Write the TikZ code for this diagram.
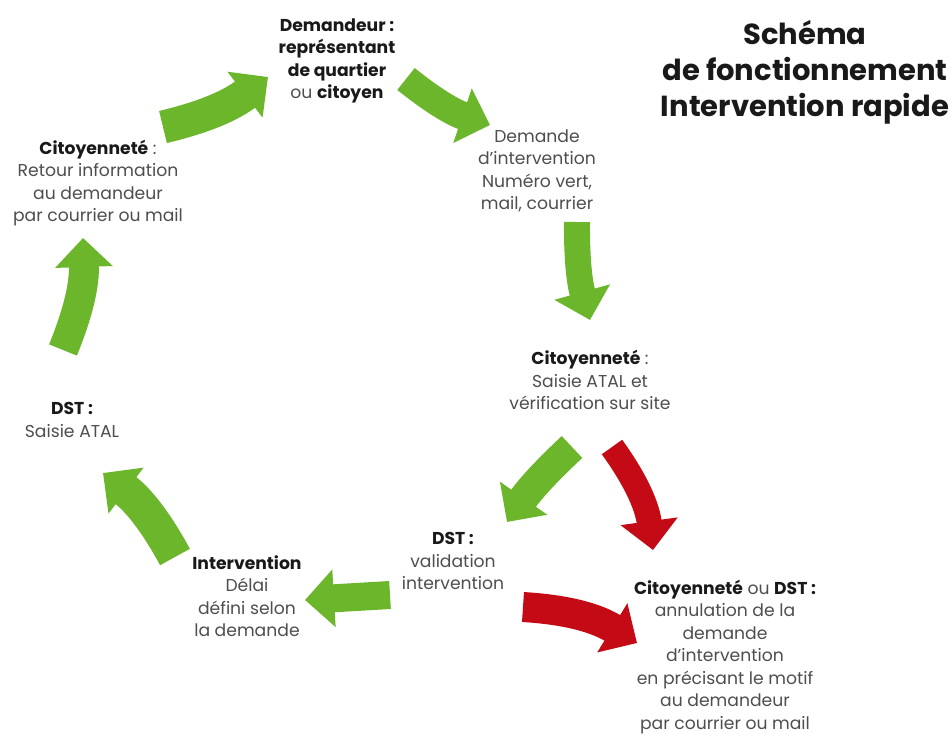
\documentclass[tikz,border=0pt]{standalone}
\usepackage{fontspec}
\setmainfont{Poppins}
\usetikzlibrary{arrows.meta}
\definecolor{arrgreen}{RGB}{108,182,44}
\definecolor{arrred}{RGB}{196,10,20}
\definecolor{txtgray}{RGB}{78,78,78}
\definecolor{txtdark}{RGB}{25,25,25}
\newcommand\hb[1]{\textcolor{txtdark}{\textbf{#1}}}
\tikzset{
  lbl/.style={align=center, font=\fontsize{17.2}{22.5}\selectfont, text=txtgray, inner sep=0pt},
  ttl/.style={align=center, font=\fontsize{29}{36}\selectfont\bfseries, text=txtdark, inner sep=0pt},
  garrow/.style={draw=arrgreen, line width=#1, -{Triangle[length=29pt,width=56pt]}},
  rarrow/.style={draw=arrred, line width=#1, -{Triangle[length=29pt,width=56pt]}}
}
\begin{document}
\begin{tikzpicture}[x=1pt,y=-1pt]
\useasboundingbox[fill=white] (0,0) rectangle (951,734);
% text nodes
\node[lbl] (dem) at (337,61) {\hb{Demandeur :}\\\hb{représentant}\\\hb{de quartier}\\ou \hb{citoyen}};
\node[lbl] (cit1) at (98,183) {\hb{Citoyenneté} :\\Retour information\\au demandeur\\par courrier ou mail};
\node[lbl] (dem2) at (537,171) {Demande\\d’intervention\\Numéro vert,\\mail, courrier};
\node[ttl] (title) at (805,72) {Schéma\\de fonctionnement\\Intervention rapide};
\node[lbl] (cit2) at (590,380) {\hb{Citoyenneté} :\\Saisie ATAL et\\vérification sur site};
\node[lbl] (dst1) at (453,561) {\hb{DST :}\\validation\\intervention};
\node[lbl] (interv) at (247,596) {\hb{Intervention}\\Délai\\défini selon\\la demande};
\node[lbl] (dst2) at (72,420) {\hb{DST :}\\Saisie ATAL};
\node[lbl] (ann) at (725,657) {\hb{Citoyenneté} ou \hb{DST :}\\annulation de la\\demande\\d’intervention\\en précisant le motif\\au demandeur\\par courrier ou mail};
% arrow end points
\coordinate (a1s) at (163,127); \coordinate (a1e) at (268,77);
\coordinate (a2s) at (406,79);  \coordinate (a2e) at (490,125);
\coordinate (a3s) at (577,222); \coordinate (a3e) at (590,320);
\coordinate (a4s) at (572,447); \coordinate (a4e) at (507,522);
\coordinate (a5s) at (612,447); \coordinate (a5e) at (653,550);
\coordinate (a6s) at (523,607); \coordinate (a6e) at (637,643);
\coordinate (a7s) at (390,595); \coordinate (a7e) at (305,600);
\coordinate (a8s) at (175,557); \coordinate (a8e) at (103,473);
\coordinate (a9s) at (63,350);  \coordinate (a9e) at (83,238);
% arrows
\draw[garrow=33pt] (a1s) to[bend right=12] (a1e);
\draw[garrow=28pt] (a2s) to[bend right=10] (a2e);
\draw[garrow=26pt] (a3s) to[bend right=8] (a3e);
\draw[garrow=30pt] (a4s) to[bend right=6] (a4e);
\draw[rarrow=25pt] (a5s) to[bend left=14] (a5e);
\draw[rarrow=30pt] (a6s) to[bend left=14] (a6e);
\draw[garrow=28pt] (a7s) to (a7e);
\draw[garrow=34pt] (a8s) to[bend right=12] (a8e);
\draw[garrow=30pt] (a9s) to[bend right=12] (a9e);
\end{tikzpicture}
\end{document}
